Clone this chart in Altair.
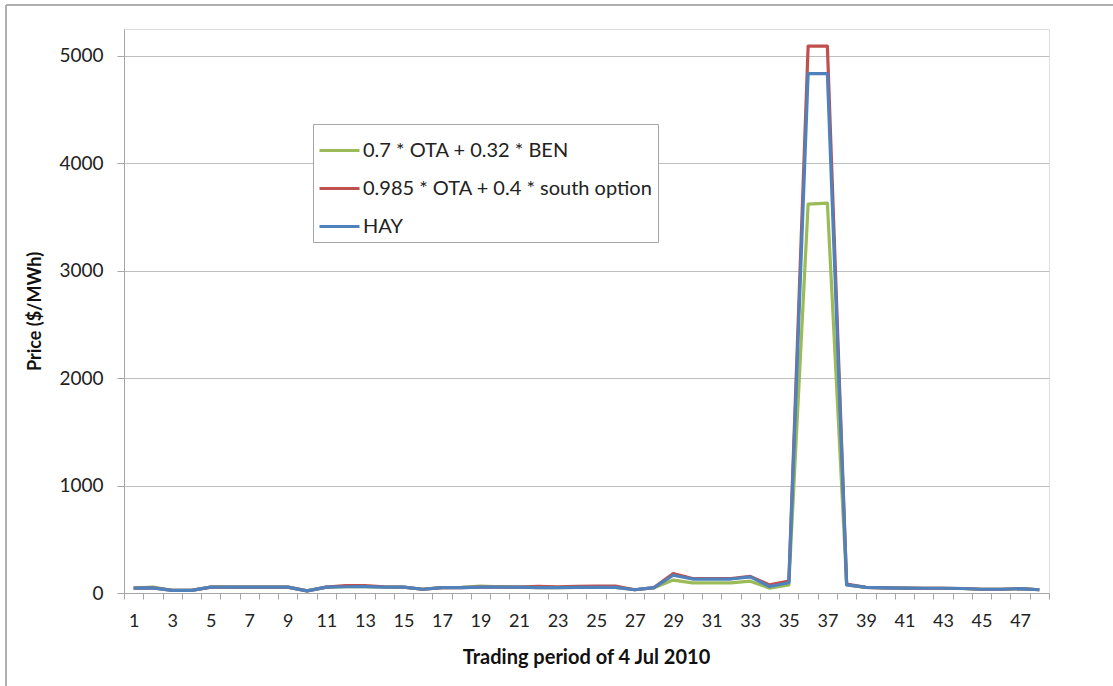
import altair as alt
import pandas as pd

# Trading periods (half-hours) of 4 Jul 2010
periods = list(range(1, 49))

# Price series in $/MWh
ota_ben = [45, 55, 25, 25, 55, 55, 55, 55, 55, 20,
           55, 58, 60, 55, 55, 35, 50, 52, 65, 58,
           55, 50, 50, 52, 52, 52, 30, 48, 120, 95,
           95, 95, 110, 45, 75, 3620, 3630, 75, 53, 48,
           45, 44, 44, 42, 35, 35, 40, 30]

ota_south = [45, 48, 25, 25, 55, 55, 55, 55, 55, 20,
             55, 68, 70, 58, 55, 35, 50, 50, 55, 55,
             55, 62, 58, 62, 65, 65, 30, 50, 180, 135,
             135, 135, 155, 75, 110, 5090, 5090, 82, 53, 48,
             45, 44, 44, 42, 35, 35, 40, 30]

hay = [45, 48, 25, 25, 55, 55, 55, 55, 55, 20,
       55, 58, 60, 55, 55, 35, 50, 50, 55, 55,
       55, 50, 50, 52, 52, 52, 30, 50, 165, 130,
       130, 130, 150, 60, 95, 4835, 4835, 75, 53, 48,
       45, 44, 44, 42, 35, 35, 40, 30]

series_names = ["0.7 * OTA + 0.32 * BEN",
                "0.985 * OTA + 0.4 * south option",
                "HAY"]
series_colors = ["#9BBB59", "#C0504D", "#4F81BD"]

rows = []
for name, values in zip(series_names, [ota_ben, ota_south, hay]):
    for p, v in zip(periods, values):
        rows.append({"period": p, "price": v, "series": name,
                     "order": series_names.index(name)})
df = pd.DataFrame(rows)

FONT = "Lato"

lines = alt.Chart(df).mark_line(strokeWidth=3.2, strokeJoin="round").encode(
    x=alt.X(
        "period:O",
        bandPosition=0.5,
        scale=alt.Scale(type="band", paddingInner=0, paddingOuter=0),
        axis=alt.Axis(
            title="Trading period of 4 Jul 2010",
            labelAngle=0,
            labelExpr="datum.value % 2 == 1 ? datum.label : ''",
            labelOverlap=False,
            tickBand="extent",
            tickSize=6,
            tickColor="#A6A6A6",
            domainColor="#A6A6A6",
            labelPadding=13,
            labelFont=FONT,
            labelFontSize=18,
            labelColor="#222222",
            grid=False,
            titleFont=FONT,
            titleFontSize=20,
            titleFontWeight="bold",
            titleColor="#111111",
            titleX=462,
            titleY=64,
            titleAlign="center",
            titleBaseline="middle",
        ),
    ),
    y=alt.Y(
        "price:Q",
        scale=alt.Scale(domain=[0, 5250], nice=False),
        axis=alt.Axis(
            title="Price ($/MWh)",
            values=[0, 1000, 2000, 3000, 4000, 5000],
            format="d",
            tickSize=7,
            tickColor="#A6A6A6",
            domainColor="#A6A6A6",
            gridColor="#BFBFBF",
            labelPadding=14,
            labelFont=FONT,
            labelFontSize=19,
            labelColor="#222222",
            titleFont=FONT,
            titleFontSize=18,
            titleFontWeight="bold",
            titleColor="#111111",
            titleAngle=-90,
            titleX=-89,
            titleY=282,
            titleAlign="center",
            titleBaseline="middle",
        ),
    ),
    color=alt.Color(
        "series:N",
        scale=alt.Scale(domain=series_names, range=series_colors),
        legend=alt.Legend(
            title=None,
            orient="none",
            legendX=189,
            legendY=95,
            symbolType="stroke",
            symbolSize=1600,
            symbolStrokeWidth=3,
            labelFont=FONT,
            labelFontSize=20,
            labelColor="#222222",
            labelOffset=2,
            rowPadding=6,
            padding=5,
            fillColor="white",
            strokeColor="#A6A6A6",
            labelLimit=400,
        ),
    ),
    order="order:Q",
)

# Outer frame of the chart
frame_top = alt.Chart(alt.Data(values=[{}])).mark_rule(
    color="#B0B0B0", strokeWidth=2
).encode(x=alt.value(-118), x2=alt.value(1000), y=alt.value(-24))
frame_left = alt.Chart(alt.Data(values=[{}])).mark_rule(
    color="#B0B0B0", strokeWidth=2
).encode(x=alt.value(-118), y=alt.value(-24), y2=alt.value(700))

chart = alt.layer(frame_top, frame_left, lines).properties(
    width=925,
    height=564,
    autosize=alt.AutoSizeParams(type="none"),
    padding={"left": 124, "top": 29, "right": 64, "bottom": 93},
).configure_view(stroke=None).configure(background="white")

chart.save("out.html", embed_options={"renderer": "svg", "actions": False})
